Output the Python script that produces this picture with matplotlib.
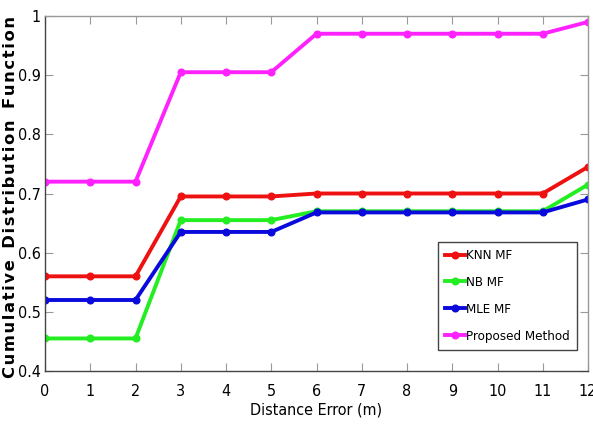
import matplotlib
matplotlib.use("Agg")
import matplotlib.pyplot as plt

x = list(range(0, 13))
knn = [0.56, 0.56, 0.56, 0.695, 0.695, 0.695, 0.70, 0.70, 0.70, 0.70, 0.70, 0.70, 0.745]
nb = [0.455, 0.455, 0.455, 0.655, 0.655, 0.655, 0.67, 0.67, 0.67, 0.67, 0.67, 0.67, 0.715]
mle = [0.52, 0.52, 0.52, 0.635, 0.635, 0.635, 0.668, 0.668, 0.668, 0.668, 0.668, 0.668, 0.69]
proposed = [0.72, 0.72, 0.72, 0.905, 0.905, 0.905, 0.97, 0.97, 0.97, 0.97, 0.97, 0.97, 0.99]
labels = ["KNN MF", "NB MF", "MLE MF", "Proposed Method"]
colors = ["#ee1111", "#22ee22", "#0a0adc", "#ff22ff"]
ylabel = "Cumulative Distribution Function"
xlabel = "Distance Error (m)"

plt.rcParams['font.family'] = ["DejaVu Sans"]
plt.rcParams['font.stretch'] = 'condensed'

fig = plt.figure(figsize=(5.93, 4.38), dpi=100)
ax = fig.add_axes([45/593, 67/438, 543/593, 355/438])
for y, lab, c in zip([knn, nb, mle, proposed], labels, colors):
    ax.plot(x, y, color=c, lw=2.8, marker='o', ms=4.8, label=lab)

ax.set_xlim(0, 12)
ax.set_ylim(0.4, 1.0)
ax.set_xticks(x)
ax.set_yticks([0.4, 0.5, 0.6, 0.7, 0.8, 0.9, 1.0])
ax.set_yticklabels(["0.4", "0.5", "0.6", "0.7", "0.8", "0.9", "1"])
ax.tick_params(direction='in', top=True, right=True, labelsize=11.5, length=6, color='#999999')
ax.tick_params(axis='x', pad=9)
ax.tick_params(axis='y', pad=3)
for s in ax.spines.values():
    s.set_color('#999999')
    s.set_linewidth(1.0)
ax.spines['left'].set_color('#444444')
ax.spines['bottom'].set_color('#444444')
ax.set_xlabel(xlabel, fontsize=11.5, labelpad=3)
spaced = "\u200a".join(ylabel).replace("\u200a \u200a", "  ")
ax.set_ylabel(spaced, fontsize=11.8, fontweight='bold', fontstretch='normal', labelpad=2)
ax.yaxis.set_label_coords(-0.05, 0.49)
leg = ax.legend(loc='lower right', bbox_to_anchor=(0.98, 0.059), borderaxespad=0, fontsize=9.5,
                handlelength=1.5, handletextpad=0.1, borderpad=0.55, labelspacing=1.05,
                fancybox=False, edgecolor='#444444', framealpha=1)
leg.get_frame().set_linewidth(1.0)
fig.savefig("out.png", dpi=100)
